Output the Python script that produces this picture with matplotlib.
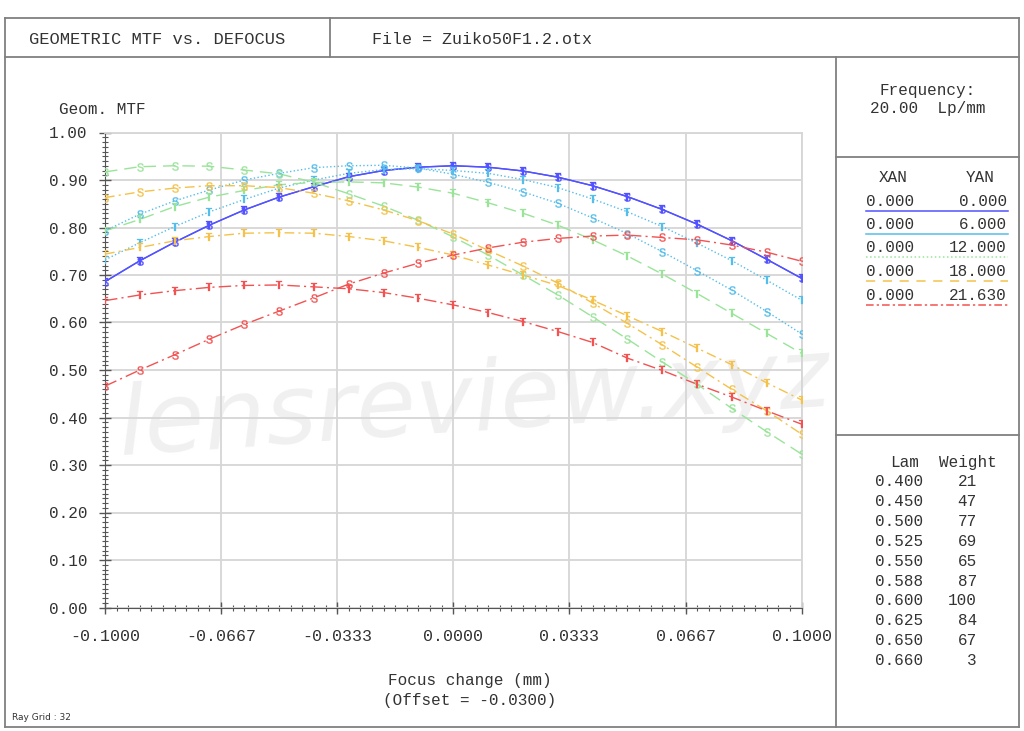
import numpy as np
import matplotlib
matplotlib.use('Agg')
import matplotlib.pyplot as plt
import matplotlib.ticker as mtick
from matplotlib.lines import Line2D

plt.rcParams['font.family'] = ['Liberation Mono', 'DejaVu Sans Mono']
plt.rcParams['axes.unicode_minus'] = False
plt.rcParams['mathtext.fontset'] = 'custom'
plt.rcParams['mathtext.tt'] = 'Liberation Mono'

# focus shift (mm)
focus = [-0.10, -0.09, -0.08, -0.07, -0.06, -0.05, -0.04, -0.03, -0.02, -0.01, 0.00,
         0.01, 0.02, 0.03, 0.04, 0.05, 0.06, 0.07, 0.08, 0.09, 0.10]

# field 0.000 (S and T identical)
mtf_0 = [0.686, 0.730, 0.769, 0.805, 0.837, 0.864, 0.886, 0.907, 0.920, 0.927, 0.930,
         0.927, 0.919, 0.906, 0.888, 0.865, 0.838, 0.807, 0.772, 0.733, 0.693]
# field 6.000
mtf_6_s = [0.793, 0.828, 0.856, 0.879, 0.900, 0.914, 0.926, 0.930, 0.931, 0.925, 0.912,
           0.895, 0.875, 0.851, 0.820, 0.787, 0.749, 0.709, 0.668, 0.623, 0.576]
mtf_6_t = [0.732, 0.768, 0.802, 0.833, 0.859, 0.883, 0.900, 0.914, 0.922, 0.924, 0.920,
           0.914, 0.901, 0.884, 0.860, 0.833, 0.802, 0.767, 0.730, 0.689, 0.647]
# field 12.000
mtf_12_s = [0.917, 0.928, 0.930, 0.929, 0.921, 0.913, 0.895, 0.871, 0.845, 0.815, 0.780,
            0.742, 0.700, 0.658, 0.612, 0.565, 0.517, 0.470, 0.419, 0.370, 0.323]
mtf_12_t = [0.793, 0.817, 0.844, 0.864, 0.878, 0.890, 0.895, 0.896, 0.894, 0.885, 0.872,
            0.852, 0.830, 0.805, 0.774, 0.740, 0.702, 0.661, 0.619, 0.577, 0.535]
# field 18.000
mtf_18_s = [0.863, 0.875, 0.883, 0.888, 0.888, 0.884, 0.872, 0.856, 0.837, 0.814, 0.786,
            0.752, 0.719, 0.683, 0.641, 0.598, 0.553, 0.506, 0.459, 0.414, 0.365]
mtf_18_t = [0.744, 0.758, 0.772, 0.781, 0.788, 0.789, 0.788, 0.781, 0.772, 0.758, 0.742,
            0.721, 0.700, 0.678, 0.647, 0.614, 0.581, 0.546, 0.511, 0.473, 0.437]
# field 21.630
mtf_21_s = [0.466, 0.500, 0.532, 0.565, 0.596, 0.624, 0.652, 0.681, 0.704, 0.725, 0.742,
            0.757, 0.769, 0.777, 0.782, 0.784, 0.779, 0.774, 0.763, 0.748, 0.729]
mtf_21_t = [0.646, 0.658, 0.667, 0.674, 0.678, 0.679, 0.675, 0.671, 0.663, 0.651, 0.637,
            0.621, 0.602, 0.581, 0.558, 0.525, 0.499, 0.470, 0.443, 0.414, 0.386]

xtick_vals = [-0.1, -0.0667, -0.0333, 0.0, 0.0333, 0.0667, 0.1]
xtick_labels = ['-0.1000', '-0.0667', '-0.0333', '0.0000', '0.0333', '0.0667', '0.1000']

yan = ['0.000', '6.000', '12.000', '18.000', '21.630']
xan = ['0.000', '0.000', '0.000', '0.000', '0.000']
lam = ['0.400', '0.450', '0.500', '0.525', '0.550', '0.588', '0.600', '0.625', '0.650', '0.660']
weight = [21, 47, 77, 69, 65, 87, 100, 84, 67, 3]

colors = ['#5252ff', '#55bdea', '#9ae49a', '#f4c24a', '#f25252']
styles = ['-', ':', (0, (9, 5)), (0, (7, 3, 1.5, 3)), (0, (9, 3, 1.5, 3))]
legend_styles = ['-', '-', ':', (0, (6, 5)), (0, (5, 2, 1.5, 2))]

W, H = 1024, 731
TXT = '#333333'
FRAME = '#808080'


def fx(px):
    return px / W


def fy(py):
    return 1 - py / H


fig = plt.figure(figsize=(W / 100, H / 100), dpi=100)

# outer frame and panel dividers
def hline(x0, x1, y, **kw):
    fig.add_artist(Line2D([fx(x0), fx(x1)], [fy(y), fy(y)], transform=fig.transFigure, **kw))


def vline(x, y0, y1, **kw):
    fig.add_artist(Line2D([fx(x), fx(x)], [fy(y0), fy(y1)], transform=fig.transFigure, **kw))


fk = dict(color=FRAME, lw=1.3)
hline(5, 1019, 18, **fk)
hline(5, 1019, 727, **fk)
vline(5, 18, 727, **fk)
vline(1019, 18, 727, **fk)
hline(5, 1019, 57, **fk)
vline(330, 18, 57, **fk)
vline(836, 57, 727, **fk)
hline(836, 1019, 157, **fk)
hline(836, 1019, 435, **fk)

fig.text(fx(157), fy(39), 'GEOMETRIC MTF vs. DEFOCUS', ha='center', va='center', fontsize=12.3, color=TXT)
fig.text(fx(372), fy(39), 'File = Zuiko50F1.2.otx', ha='left', va='center', fontsize=12, color=TXT)

ax = fig.add_axes([fx(105), fy(607.5), 696.6 / W, 475 / H])

ax.text(0.53, 0.43, 'lensreview.xyz', transform=ax.transAxes, ha='center', va='center',
        fontsize=70, style='italic', family='DejaVu Sans', color='#f0f0f0', rotation=4, zorder=0.5)

fields = [
    (mtf_0, mtf_0),
    (mtf_6_s, mtf_6_t),
    (mtf_12_s, mtf_12_t),
    (mtf_18_s, mtf_18_t),
    (mtf_21_s, mtf_21_t),
]
for (s_vals, t_vals), c, ls in zip(fields, colors, styles):
    for vals, letter in ((s_vals, 'S'), (t_vals, 'T')):
        ax.plot(focus, vals, color=c, ls=ls, lw=1.0, zorder=3)
        ax.plot(focus, vals, ls='none', marker=r'$\mathtt{%s}$' % letter,
                ms=6, color=c, mec=c, mew=0.2, zorder=4)

ax.set_xlim(-0.1, 0.1)
ax.set_ylim(0, 1)
ax.set_xticks(xtick_vals)
ax.set_xticklabels(xtick_labels)
ax.xaxis.set_minor_locator(mtick.MultipleLocator(0.2 / 60))
ax.yaxis.set_major_locator(mtick.MultipleLocator(0.1))
ax.yaxis.set_minor_locator(mtick.MultipleLocator(0.01))
ax.yaxis.set_major_formatter(mtick.FormatStrFormatter('%.2f'))
ax.grid(True, which='major', color='#d6d6d6', lw=1.3)
ax.set_axisbelow(True)
ax.tick_params(which='major', direction='inout', length=9, width=1, color='#555555',
               labelsize=11.5, labelcolor=TXT)
ax.tick_params(axis='x', which='major', pad=11, labelsize=12)
ax.tick_params(axis='y', which='major', pad=8)
ax.tick_params(which='minor', direction='inout', length=5, width=0.8, color='#555555')
for side in ('left', 'bottom'):
    ax.spines[side].set_color('#555555')
for side in ('top', 'right'):
    ax.spines[side].set_color('#d6d6d6')
    ax.spines[side].set_linewidth(1.3)

fig.text(fx(102), fy(110), 'Geom. MTF', ha='center', va='center', fontsize=11.5, color=TXT)
fig.text(fx(470), fy(681), 'Focus change (mm)', ha='center', va='center', fontsize=11.5, color=TXT)
fig.text(fx(470), fy(700), '(Offset = -0.0300)', ha='center', va='center', fontsize=11.5, color=TXT)
fig.text(fx(12), fy(718), 'Ray Grid : 32', ha='left', va='center', fontsize=6.5,
         family='DejaVu Sans', color=TXT)

# right panel
fig.text(fx(928), fy(90), 'Frequency:', ha='center', va='center', fontsize=11.5, color=TXT)
fig.text(fx(928), fy(109), '20.00  Lp/mm', ha='center', va='center', fontsize=11.5, color=TXT)
fig.text(fx(893), fy(178), 'XAN', ha='center', va='center', fontsize=11.5, color=TXT)
fig.text(fx(980), fy(178), 'YAN', ha='center', va='center', fontsize=11.5, color=TXT)
for k, (xa, ya) in enumerate(zip(xan, yan)):
    yrow = 201 + k * 23.5
    fig.text(fx(866), fy(yrow), xa, ha='left', va='center', fontsize=11.5, color=TXT)
    fig.text(fx(1007), fy(yrow), ya, ha='right', va='center', fontsize=11.5, color=TXT)
    hline(866, 1008, yrow + 9.5, color=colors[k], ls=legend_styles[k], lw=1.1)

fig.text(fx(905), fy(463), 'Lam', ha='center', va='center', fontsize=11.5, color=TXT)
fig.text(fx(968), fy(463), 'Weight', ha='center', va='center', fontsize=11.5, color=TXT)
for k, (l, w) in enumerate(zip(lam, weight)):
    yrow = 482 + k * 19.8
    fig.text(fx(875), fy(yrow), l, ha='left', va='center', fontsize=11.5, color=TXT)
    fig.text(fx(977), fy(yrow), str(w), ha='right', va='center', fontsize=11.5, color=TXT)

fig.savefig('out.png', dpi=100)
